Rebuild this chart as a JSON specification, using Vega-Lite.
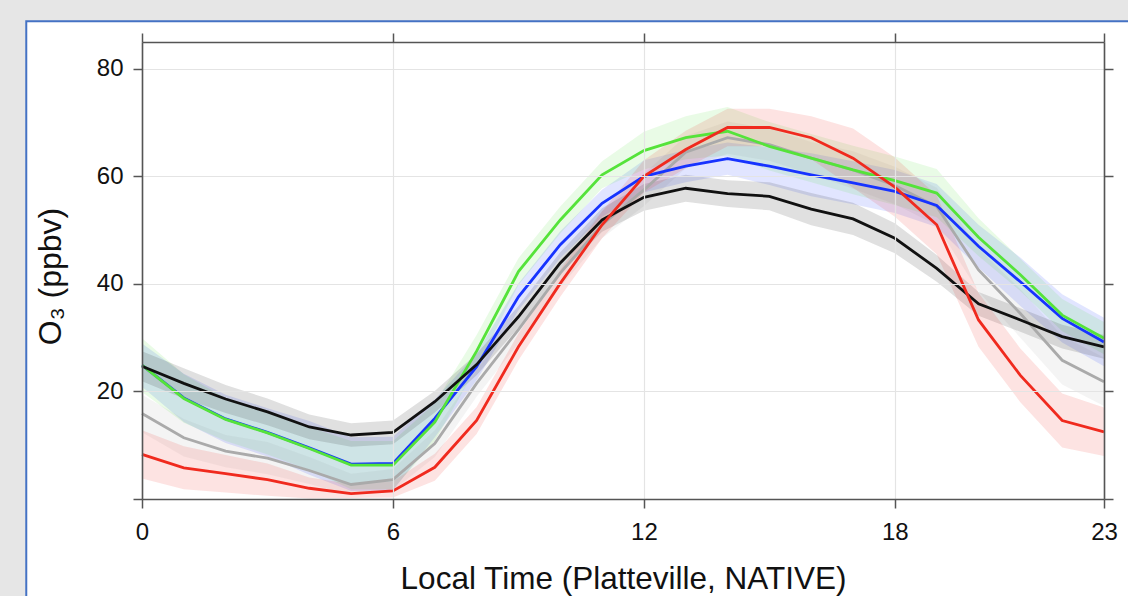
{
"$schema": "https://vega.github.io/schema/vega-lite/v6.json",
"width": 962, "height": 457,
"autosize": "none",
"padding": {"left": 142, "top": 42, "right": 24, "bottom": 97},
"background": "#e6e6e6",
"config": {"font": "Liberation Sans", "view": {"stroke": null}},
"data": {"values": [
{"s":"S1","h":0,"v":15.9,"lo":12.4,"hi":19.4},{"s":"S1","h":1,"v":11.4,"lo":7.9,"hi":14.9},{"s":"S1","h":2,"v":8.9,"lo":5.9,"hi":11.9},{"s":"S1","h":3,"v":7.6,"lo":4.6,"hi":10.6},{"s":"S1","h":4,"v":5.3,"lo":2.8,"hi":7.8},{"s":"S1","h":5,"v":2.7,"lo":0.7,"hi":4.7},{"s":"S1","h":6,"v":3.6,"lo":1.6,"hi":5.6},{"s":"S1","h":7,"v":10.3,"lo":7.8,"hi":12.8},{"s":"S1","h":8,"v":21.5,"lo":19.0,"hi":24.0},{"s":"S1","h":9,"v":31.5,"lo":29.0,"hi":34.0},{"s":"S1","h":10,"v":42.0,"lo":39.5,"hi":44.5},{"s":"S1","h":11,"v":51.0,"lo":48.5,"hi":53.5},{"s":"S1","h":12,"v":57.5,"lo":54.5,"hi":60.5},{"s":"S1","h":13,"v":64.5,"lo":61.5,"hi":67.5},{"s":"S1","h":14,"v":67.2,"lo":64.2,"hi":70.2},{"s":"S1","h":15,"v":65.9,"lo":62.9,"hi":68.9},{"s":"S1","h":16,"v":63.4,"lo":60.4,"hi":66.4},{"s":"S1","h":17,"v":61.2,"lo":57.7,"hi":64.7},{"s":"S1","h":18,"v":58.3,"lo":54.8,"hi":61.8},{"s":"S1","h":19,"v":54.4,"lo":50.9,"hi":57.9},{"s":"S1","h":20,"v":42.6,"lo":38.6,"hi":46.6},{"s":"S1","h":21,"v":34.5,"lo":30.0,"hi":39.0},{"s":"S1","h":22,"v":25.8,"lo":21.3,"hi":30.3},{"s":"S1","h":23,"v":21.8,"lo":17.3,"hi":26.3},
{"s":"S2","h":0,"v":24.9,"lo":20.9,"hi":28.9},{"s":"S2","h":1,"v":18.8,"lo":14.3,"hi":23.3},{"s":"S2","h":2,"v":14.9,"lo":10.4,"hi":19.4},{"s":"S2","h":3,"v":12.4,"lo":7.9,"hi":16.9},{"s":"S2","h":4,"v":9.5,"lo":4.5,"hi":14.5},{"s":"S2","h":5,"v":6.5,"lo":1.5,"hi":11.5},{"s":"S2","h":6,"v":6.6,"lo":1.6,"hi":11.6},{"s":"S2","h":7,"v":15.0,"lo":11.5,"hi":18.5},{"s":"S2","h":8,"v":24.6,"lo":22.1,"hi":27.1},{"s":"S2","h":9,"v":37.6,"lo":35.1,"hi":40.1},{"s":"S2","h":10,"v":47.3,"lo":44.8,"hi":49.8},{"s":"S2","h":11,"v":55.0,"lo":52.5,"hi":57.5},{"s":"S2","h":12,"v":60.0,"lo":57.0,"hi":63.0},{"s":"S2","h":13,"v":61.9,"lo":58.9,"hi":64.9},{"s":"S2","h":14,"v":63.3,"lo":60.3,"hi":66.3},{"s":"S2","h":15,"v":61.9,"lo":58.4,"hi":65.4},{"s":"S2","h":16,"v":60.3,"lo":56.3,"hi":64.3},{"s":"S2","h":17,"v":58.8,"lo":54.8,"hi":62.8},{"s":"S2","h":18,"v":57.2,"lo":53.2,"hi":61.2},{"s":"S2","h":19,"v":54.6,"lo":50.6,"hi":58.6},{"s":"S2","h":20,"v":47.0,"lo":43.0,"hi":51.0},{"s":"S2","h":21,"v":40.4,"lo":35.9,"hi":44.9},{"s":"S2","h":22,"v":33.6,"lo":29.1,"hi":38.1},{"s":"S2","h":23,"v":29.2,"lo":24.7,"hi":33.7},
{"s":"S3","h":0,"v":24.9,"lo":19.9,"hi":29.9},{"s":"S3","h":1,"v":18.7,"lo":14.2,"hi":23.2},{"s":"S3","h":2,"v":14.8,"lo":10.8,"hi":18.8},{"s":"S3","h":3,"v":12.3,"lo":8.3,"hi":16.3},{"s":"S3","h":4,"v":9.4,"lo":5.4,"hi":13.4},{"s":"S3","h":5,"v":6.3,"lo":1.8,"hi":10.8},{"s":"S3","h":6,"v":6.3,"lo":1.8,"hi":10.8},{"s":"S3","h":7,"v":14.3,"lo":10.8,"hi":17.8},{"s":"S3","h":8,"v":27.5,"lo":24.5,"hi":30.5},{"s":"S3","h":9,"v":42.3,"lo":39.8,"hi":44.8},{"s":"S3","h":10,"v":51.9,"lo":49.4,"hi":54.4},{"s":"S3","h":11,"v":60.3,"lo":57.8,"hi":62.8},{"s":"S3","h":12,"v":64.8,"lo":61.3,"hi":68.3},{"s":"S3","h":13,"v":67.2,"lo":63.2,"hi":71.2},{"s":"S3","h":14,"v":68.4,"lo":63.9,"hi":72.9},{"s":"S3","h":15,"v":65.6,"lo":61.1,"hi":70.1},{"s":"S3","h":16,"v":63.4,"lo":58.9,"hi":67.9},{"s":"S3","h":17,"v":61.2,"lo":56.7,"hi":65.7},{"s":"S3","h":18,"v":59.2,"lo":54.7,"hi":63.7},{"s":"S3","h":19,"v":56.9,"lo":52.4,"hi":61.4},{"s":"S3","h":20,"v":48.7,"lo":45.2,"hi":52.2},{"s":"S3","h":21,"v":41.7,"lo":38.7,"hi":44.7},{"s":"S3","h":22,"v":34.2,"lo":31.2,"hi":37.2},{"s":"S3","h":23,"v":29.9,"lo":26.9,"hi":32.9},
{"s":"S4","h":0,"v":24.7,"lo":21.9,"hi":27.5},{"s":"S4","h":1,"v":21.5,"lo":18.7,"hi":24.3},{"s":"S4","h":2,"v":18.6,"lo":16.0,"hi":21.2},{"s":"S4","h":3,"v":16.2,"lo":13.7,"hi":18.7},{"s":"S4","h":4,"v":13.4,"lo":11.1,"hi":15.7},{"s":"S4","h":5,"v":11.9,"lo":9.7,"hi":14.1},{"s":"S4","h":6,"v":12.4,"lo":10.2,"hi":14.6},{"s":"S4","h":7,"v":18.1,"lo":16.1,"hi":20.1},{"s":"S4","h":8,"v":25.0,"lo":23.0,"hi":27.0},{"s":"S4","h":9,"v":33.9,"lo":31.9,"hi":35.9},{"s":"S4","h":10,"v":43.9,"lo":41.9,"hi":45.9},{"s":"S4","h":11,"v":51.9,"lo":49.7,"hi":54.1},{"s":"S4","h":12,"v":56.1,"lo":53.6,"hi":58.6},{"s":"S4","h":13,"v":57.8,"lo":55.3,"hi":60.3},{"s":"S4","h":14,"v":56.8,"lo":54.3,"hi":59.3},{"s":"S4","h":15,"v":56.3,"lo":53.7,"hi":58.9},{"s":"S4","h":16,"v":53.9,"lo":50.9,"hi":56.9},{"s":"S4","h":17,"v":52.1,"lo":49.1,"hi":55.1},{"s":"S4","h":18,"v":48.5,"lo":45.7,"hi":51.3},{"s":"S4","h":19,"v":42.9,"lo":40.4,"hi":45.4},{"s":"S4","h":20,"v":36.3,"lo":34.1,"hi":38.5},{"s":"S4","h":21,"v":33.3,"lo":31.1,"hi":35.5},{"s":"S4","h":22,"v":30.2,"lo":28.0,"hi":32.4},{"s":"S4","h":23,"v":28.3,"lo":26.1,"hi":30.5},
{"s":"S5","h":0,"v":8.3,"lo":3.8,"hi":12.8},{"s":"S5","h":1,"v":5.8,"lo":1.8,"hi":9.8},{"s":"S5","h":2,"v":4.7,"lo":1.2,"hi":8.2},{"s":"S5","h":3,"v":3.6,"lo":0.6,"hi":6.6},{"s":"S5","h":4,"v":2.0,"lo":0.1,"hi":4.0},{"s":"S5","h":5,"v":1.0,"lo":0.2,"hi":2.8},{"s":"S5","h":6,"v":1.5,"lo":0.3,"hi":3.3},{"s":"S5","h":7,"v":5.9,"lo":3.4,"hi":8.4},{"s":"S5","h":8,"v":14.6,"lo":12.1,"hi":17.1},{"s":"S5","h":9,"v":28.3,"lo":25.8,"hi":30.8},{"s":"S5","h":10,"v":40.1,"lo":37.6,"hi":42.6},{"s":"S5","h":11,"v":51.0,"lo":48.5,"hi":53.5},{"s":"S5","h":12,"v":60.0,"lo":57.0,"hi":63.0},{"s":"S5","h":13,"v":65.0,"lo":61.5,"hi":68.5},{"s":"S5","h":14,"v":69.1,"lo":65.6,"hi":72.6},{"s":"S5","h":15,"v":69.1,"lo":65.6,"hi":72.6},{"s":"S5","h":16,"v":67.2,"lo":63.2,"hi":71.2},{"s":"S5","h":17,"v":63.4,"lo":57.9,"hi":68.9},{"s":"S5","h":18,"v":58.0,"lo":52.5,"hi":63.5},{"s":"S5","h":19,"v":51.0,"lo":45.5,"hi":56.5},{"s":"S5","h":20,"v":33.3,"lo":28.3,"hi":38.3},{"s":"S5","h":21,"v":23.0,"lo":18.0,"hi":28.0},{"s":"S5","h":22,"v":14.6,"lo":9.6,"hi":19.6},{"s":"S5","h":23,"v":12.5,"lo":8.0,"hi":17.0}
]},
"resolve": {"axis": {"x": "independent", "y": "independent"}},
"layer": [
{
"data": {"values": [{}]},
"mark": {"type": "rect", "fill": "white", "stroke": "#4472c4", "strokeWidth": 2},
"encoding": {
"x": {"datum": -2.767, "type": "quantitative", "scale": {"domain": [0, 23], "nice": false, "zero": false}, "axis": null},
"x2": {"datum": 26},
"y": {"datum": 88.87, "type": "quantitative", "scale": {"domain": [0, 85], "nice": false}, "axis": null},
"y2": {"datum": -30}
}
},
{
"mark": {"type": "area", "opacity": 0.13},
"encoding": {
"x": {"field": "h", "type": "quantitative", "scale": {"domain": [0, 23], "nice": false, "zero": false},
"axis": {"orient": "bottom", "values": [0, 6, 12, 18, 23], "format": "d", "grid": true, "gridColor": "#e4e4e4", "gridWidth": 1.2, "tickSize": 9, "tickColor": "#555", "tickWidth": 1.5, "domainColor": "#555", "domainWidth": 1.6, "labelFontSize": 24, "labelColor": "#111", "labelPadding": 12, "labelFlush": false, "labelOverlap": false, "title": "Local Time (Platteville, NATIVE)", "titleFontSize": 31.5, "titleFontWeight": "normal", "titleColor": "#111", "titlePadding": 19, "zindex": 1}},
"y": {"field": "lo", "type": "quantitative", "scale": {"domain": [0, 85], "nice": false},
"axis": {"orient": "left", "values": [0, 20, 40, 60, 80], "labelExpr": "datum.value == 0 ? '' : datum.label", "grid": true, "gridColor": "#e4e4e4", "gridWidth": 1.2, "tickSize": 9, "tickColor": "#555", "tickWidth": 1.5, "domainColor": "#555", "domainWidth": 1.6, "labelFontSize": 24, "labelColor": "#111", "labelPadding": 10, "labelFlush": false, "title": "O₃ (ppbv)", "titleFontSize": 32, "titleFontWeight": "normal", "titleColor": "#111", "titlePadding": 29, "titleY": 234, "zindex": 1}},
"y2": {"field": "hi"},
"color": {"field": "s", "type": "nominal", "scale": {"domain": ["S1", "S2", "S3", "S4", "S5"], "range": ["#aaaaaa", "#1733ff", "#55e33a", "#111111", "#f02a1e"]}, "legend": null}
}
},
{
"mark": {"type": "line", "strokeWidth": 2.8},
"encoding": {
"x": {"field": "h", "type": "quantitative", "scale": {"domain": [0, 23], "nice": false, "zero": false},
"axis": {"orient": "top", "values": [0, 6, 12, 18, 23], "grid": false, "labels": false, "tickSize": 9, "tickColor": "#555", "tickWidth": 1.5, "domainColor": "#555", "domainWidth": 1.6, "title": null, "zindex": 1}},
"y": {"field": "v", "type": "quantitative", "scale": {"domain": [0, 85], "nice": false},
"axis": {"orient": "right", "values": [0, 20, 40, 60, 80], "grid": false, "labels": false, "tickSize": 9, "tickColor": "#555", "tickWidth": 1.5, "domainColor": "#555", "domainWidth": 1.6, "title": null, "zindex": 1}},
"color": {"field": "s", "type": "nominal", "scale": {"domain": ["S1", "S2", "S3", "S4", "S5"], "range": ["#aaaaaa", "#1733ff", "#55e33a", "#111111", "#f02a1e"]}, "legend": null}
}
}
]
}
